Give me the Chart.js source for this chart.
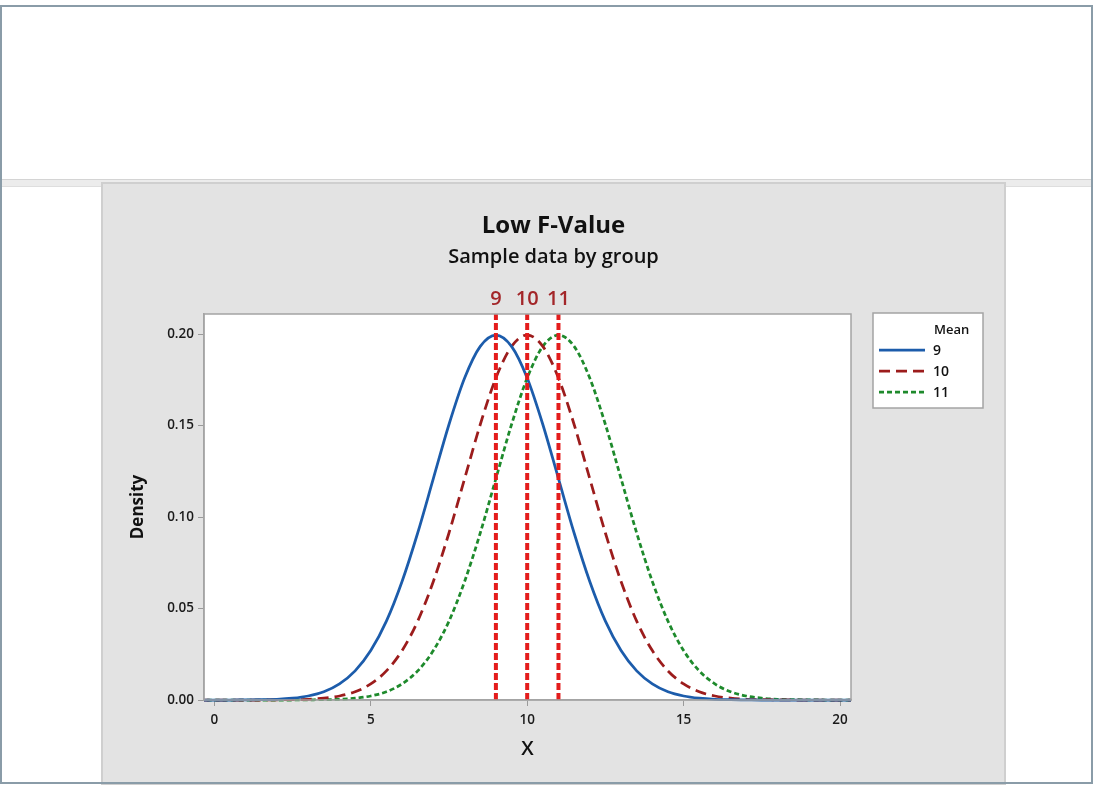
<!DOCTYPE html>
<html>
<head>
<meta charset="utf-8">
<title>Low F-Value</title>
<script src="https://cdn.jsdelivr.net/npm/chart.js@4.4.1/dist/chart.umd.min.js"></script>
<style>
  html, body { margin: 0; padding: 0; background: #fff; }
  body { width: 1093px; height: 785px; position: relative; overflow: hidden; }
  #bar { position: absolute; left: 1px; top: 179px; width: 1091px; height: 8px; background: #ececec;
         border-top: 1px solid #d4d4d4; border-bottom: 1px solid #dedede; box-sizing: border-box; }
  #panel { position: absolute; left: 101px; top: 182px; width: 905px; height: 603px; background: #e3e3e3;
           border: 2px solid #cfcfcf; box-sizing: border-box; }
  #chart { position: absolute; left: 0; top: 0; }
  #frame { position: absolute; left: 0; top: 5px; width: 1093px; height: 779px; border: 2px solid #8a9ca8;
           box-sizing: border-box; pointer-events: none; }
</style>
</head>
<body>
<div id="bar"></div>
<div id="panel"><canvas id="chart" width="901" height="599"></canvas></div>
<div id="frame"></div>
<script>
// Sample x positions for the density curves
const xValues = [-0.5, 0, 0.5, 1, 1.5, 2, 2.5, 3, 3.5, 4, 4.5, 5, 5.5, 6, 6.5, 7, 7.5, 8, 8.5, 9, 9.5,
  10, 10.5, 11, 11.5, 12, 12.5, 13, 13.5, 14, 14.5, 15, 15.5, 16, 16.5, 17, 17.5, 18, 18.5, 19, 19.5, 20, 20.5];

// Density of each group (mean 9, 10, 11)
const density9 = [0, 0, 0, 0.0001, 0.0002, 0.0004, 0.0010, 0.0022, 0.0045, 0.0088, 0.0159, 0.0270, 0.0431,
  0.0648, 0.0913, 0.1210, 0.1506, 0.1760, 0.1933, 0.1995, 0.1933, 0.1760, 0.1506, 0.1210, 0.0913, 0.0648,
  0.0431, 0.0270, 0.0159, 0.0088, 0.0045, 0.0022, 0.0010, 0.0004, 0.0002, 0.0001, 0, 0, 0, 0, 0, 0, 0];
const density10 = [0, 0, 0, 0, 0, 0.0001, 0.0002, 0.0004, 0.0010, 0.0022, 0.0045, 0.0088, 0.0159, 0.0270,
  0.0431, 0.0648, 0.0913, 0.1210, 0.1506, 0.1760, 0.1933, 0.1995, 0.1933, 0.1760, 0.1506, 0.1210, 0.0913,
  0.0648, 0.0431, 0.0270, 0.0159, 0.0088, 0.0045, 0.0022, 0.0010, 0.0004, 0.0002, 0.0001, 0, 0, 0, 0, 0];
const density11 = [0, 0, 0, 0, 0, 0, 0, 0.0001, 0.0002, 0.0004, 0.0010, 0.0022, 0.0045, 0.0088, 0.0159,
  0.0270, 0.0431, 0.0648, 0.0913, 0.1210, 0.1506, 0.1760, 0.1933, 0.1995, 0.1933, 0.1760, 0.1506, 0.1210,
  0.0913, 0.0648, 0.0431, 0.0270, 0.0159, 0.0088, 0.0045, 0.0022, 0.0010, 0.0004, 0.0002, 0.0001, 0, 0, 0];

const groupLabels = ['9', '10', '11'];
const means = [9, 10, 11];

// Axis ticks and ranges
const xTicks = [0, 5, 10, 15, 20];
const yTicks = [0, 0.05, 0.10, 0.15, 0.20];
const xRange = [-0.33, 20.35];
const yRange = [0, 0.211];

const FONT = "'Open Sans', 'Noto Sans', sans-serif";
Chart.defaults.font.family = FONT;

const toPoints = ys => xValues.map((x, i) => ({ x: x, y: ys[i] }));

const curveStyles = [
  { color: '#1c5cab', dash: [] },
  { color: '#9c1c1c', dash: [11, 6] },
  { color: '#1e8a2c', dash: [5, 3] }
];
const curveData = [density9, density10, density11];

const datasets = curveData.map((ys, i) => ({
  label: groupLabels[i],
  data: toPoints(ys),
  borderColor: curveStyles[i].color,
  borderWidth: 2.75,
  borderDash: curveStyles[i].dash,
  pointRadius: 0,
  cubicInterpolationMode: 'monotone',
  clip: { left: 0, top: 0, right: 0, bottom: 3 },
  order: 1
}));

// Vertical reference lines at each group mean
means.forEach(m => {
  datasets.push({
    label: 'mean ' + m,
    meanLine: true,
    meanValue: m,
    data: [{ x: m, y: yRange[0] }, { x: m, y: yRange[1] }],
    borderColor: '#e41c1c',
    borderWidth: 4,
    borderDash: [7, 3],
    pointRadius: 0,
    order: 0
  });
});

const decorPlugin = {
  id: 'decor',
  beforeDraw(chart) {
    const { ctx, chartArea: a } = chart;
    ctx.save();
    ctx.fillStyle = '#ffffff';
    ctx.fillRect(a.left, a.top, a.right - a.left, a.bottom - a.top);
    ctx.restore();
  },
  afterDatasetsDraw(chart) {
    const { ctx, chartArea: a } = chart;
    ctx.save();
    ctx.strokeStyle = '#a4a4a4';
    ctx.lineWidth = 1.5;
    ctx.strokeRect(a.left, a.top, a.right - a.left, a.bottom - a.top);
    ctx.restore();
  },
  afterDraw(chart) {
    const { ctx, chartArea: a, scales } = chart;
    const W = chart.width;
    ctx.save();
    ctx.fillStyle = '#111';
    ctx.textAlign = 'center';
    ctx.textBaseline = 'alphabetic';
    ctx.font = 'bold 24px ' + FONT;
    ctx.fillText('Low F-Value', W / 2, 49);
    ctx.font = '600 20px ' + FONT;
    ctx.fillText('Sample data by group', W / 2, 79);

    // axis titles
    ctx.font = '600 20px ' + FONT;
    ctx.fillText('X', (a.left + a.right) / 2, 571);
    ctx.save();
    ctx.translate(35, (a.top + a.bottom) / 2);
    ctx.rotate(-Math.PI / 2);
    ctx.textBaseline = 'middle';
    ctx.font = 'bold 17px ' + FONT;
    ctx.fillText('Density', 0, 0);
    ctx.restore();

    // mean labels above the plot
    ctx.fillStyle = '#a32629';
    ctx.font = '600 20px ' + FONT;
    chart.data.datasets.filter(d => d.meanLine).forEach(d => {
      ctx.fillText(String(d.meanValue), scales.x.getPixelForValue(d.meanValue), a.top - 9);
    });

    // legend box
    const lx = a.right + 22, ly = a.top - 1, lw = 110, lh = 95;
    ctx.fillStyle = '#ffffff';
    ctx.fillRect(lx, ly, lw, lh);
    ctx.strokeStyle = '#a4a4a4';
    ctx.lineWidth = 1.5;
    ctx.strokeRect(lx, ly, lw, lh);
    ctx.fillStyle = '#111';
    ctx.textAlign = 'left';
    ctx.font = '600 13px ' + FONT;
    ctx.fillText('Mean', lx + 61, ly + 21);
    ctx.font = '600 14px ' + FONT;
    const curves = chart.data.datasets.filter(d => !d.meanLine);
    curves.forEach((d, i) => {
      const y = ly + 37 + i * 21;
      ctx.save();
      ctx.strokeStyle = d.borderColor;
      ctx.lineWidth = 2.75;
      ctx.setLineDash(d.borderDash);
      ctx.beginPath();
      ctx.moveTo(lx + 6, y);
      ctx.lineTo(lx + 52, y);
      ctx.stroke();
      ctx.restore();
      ctx.fillStyle = '#111';
      ctx.fillText(d.label, lx + 60, y + 5);
    });
    ctx.restore();
  }
};

new Chart(document.getElementById('chart'), {
  type: 'line',
  data: { datasets: datasets },
  plugins: [decorPlugin],
  options: {
    responsive: false,
    animation: false,
    devicePixelRatio: 1,
    layout: { padding: { left: 41, top: 130, right: 153, bottom: 33 } },
    plugins: { legend: { display: false }, title: { display: false }, tooltip: { enabled: false } },
    scales: {
      x: {
        type: 'linear',
        min: xRange[0],
        max: xRange[1],
        afterBuildTicks: s => { s.ticks = xTicks.map(v => ({ value: v })); },
        afterFit: s => { s.height = 50; },
        ticks: { color: '#1a1a1a', font: { size: 13.5, weight: '600' }, padding: 6, maxRotation: 0,
                 callback: v => String(v) },
        grid: { display: true, drawOnChartArea: false, drawTicks: true, tickLength: 6, color: '#9a9a9a' },
        border: { display: true, color: '#a4a4a4', width: 1.5 }
      },
      y: {
        type: 'linear',
        min: yRange[0],
        max: yRange[1],
        afterBuildTicks: s => { s.ticks = yTicks.map(v => ({ value: v })); },
        afterFit: s => { s.width = 60; },
        ticks: { color: '#1a1a1a', font: { size: 13.5, weight: '600' }, padding: 4,
                 callback: v => Number(v).toFixed(2) },
        grid: { display: true, drawOnChartArea: false, drawTicks: true, tickLength: 6, color: '#9a9a9a' },
        border: { display: true, color: '#a4a4a4', width: 1.5 }
      }
    }
  }
});
</script>
</body>
</html>
